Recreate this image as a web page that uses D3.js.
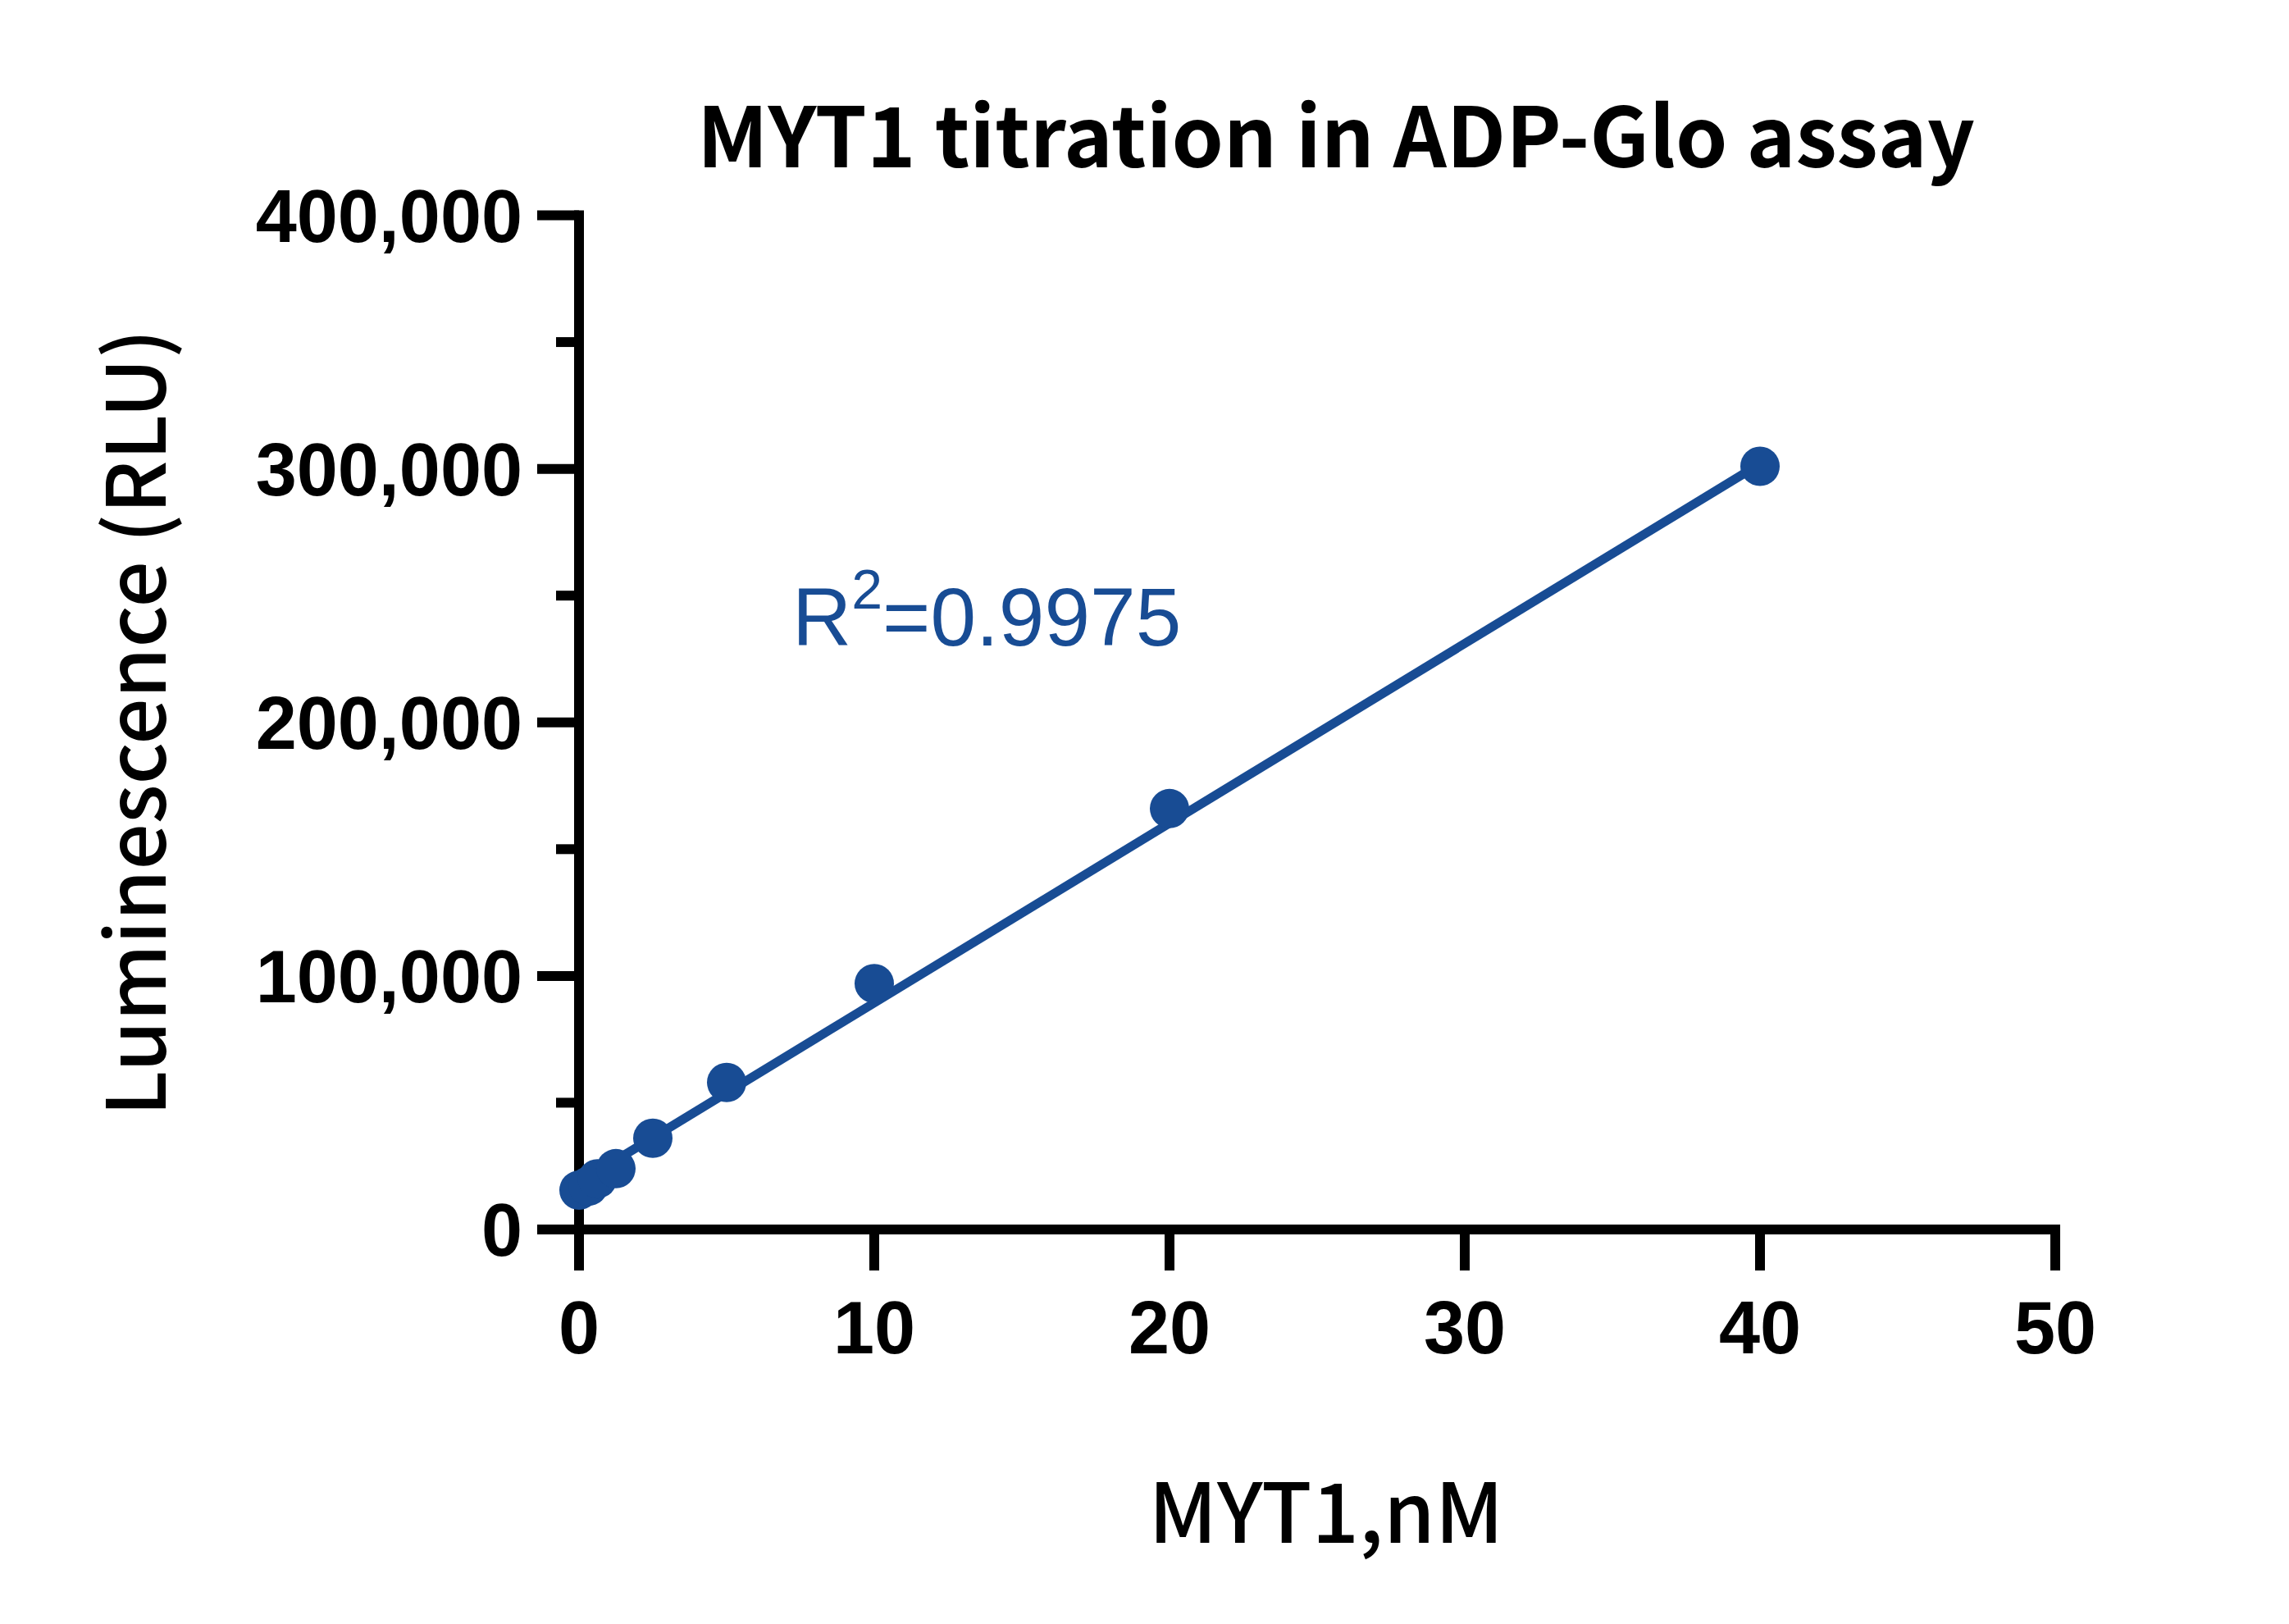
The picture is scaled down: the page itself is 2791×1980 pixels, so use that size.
<!DOCTYPE html>
<html>
<head>
<meta charset="utf-8">
<script src="https://cdn.jsdelivr.net/npm/d3@7"></script>
<style>
  body { margin: 0; background: #fff; }
</style>
</head>
<body>
<div class="chart"></div>
<script>
// data
const concNM = [0, 0.3125, 0.625, 1.25, 2.5, 5, 10, 20, 40];
const rlu = [15500, 17000, 20000, 24000, 36000, 58000, 97000, 166000, 301000];
// linear fit line, end points
const fitX = [0, 40];
const fitY = [18500, 302000];
const xTicks = [0, 10, 20, 30, 40, 50];
const yTicks = [0, 100000, 200000, 300000, 400000];
const yMinor = [50000, 150000, 250000, 350000];
const rSquared = "0.9975";

const W = 2791, H = 1980;
const blue = "#184c94";

const svg = d3.select(".chart")
  .append("svg")
  .attr("width", W)
  .attr("height", H)
  .style("background", "#fff");

const x = d3.scaleLinear()
  .domain([0, 50])
  .range([706, 2506]);

const y = d3.scaleLinear()
  .domain([0, 400000])
  .range([1499, 262.5]);

// fit text to a measured width
function fitWidth(sel, target) {
  const w = sel.node().getBBox().width;
  const fs = parseFloat(sel.attr("font-size"));
  sel.attr("font-size", fs * target / w);
}

// y axis minor ticks
svg.append("g")
  .attr("transform", "translate(" + x(0) + ",0)")
  .call(d3.axisLeft(y).tickValues(yMinor).tickSize(28).tickFormat("").offset(0))
  .call(g => g.select(".domain").remove())
  .call(g => g.selectAll("line").attr("stroke", "#000").attr("stroke-width", 12));

// y axis
svg.append("g")
  .attr("transform", "translate(" + x(0) + ",0)")
  .call(d3.axisLeft(y)
    .tickValues(yTicks)
    .tickSize(51)
    .tickSizeOuter(0)
    .tickPadding(18)
    .tickFormat(d3.format(","))
    .offset(0))
  .call(g => g.select(".domain").attr("stroke", "#000").attr("stroke-width", 12).attr("stroke-linecap", "square"))
  .call(g => g.selectAll(".tick line").attr("stroke", "#000").attr("stroke-width", 12))
  .call(g => g.selectAll("text")
    .attr("fill", "#000")
    .attr("dy", "0.36em")
    .style("font-family", "'Liberation Sans', Arial, sans-serif")
    .style("font-weight", "bold")
    .style("font-size", "90px"));

// x axis
svg.append("g")
  .attr("transform", "translate(0," + y(0) + ")")
  .call(d3.axisBottom(x)
    .tickValues(xTicks)
    .tickSize(50)
    .tickSizeOuter(0)
    .tickPadding(37)
    .offset(0))
  .call(g => g.select(".domain").attr("stroke", "#000").attr("stroke-width", 12).attr("stroke-linecap", "square"))
  .call(g => g.selectAll(".tick line").attr("stroke", "#000").attr("stroke-width", 12))
  .call(g => g.selectAll("text")
    .attr("fill", "#000")
    .style("font-family", "'Liberation Sans', Arial, sans-serif")
    .style("font-weight", "bold")
    .style("font-size", "90px"));

// fit line
const fitData = fitX.map((d, i) => [d, fitY[i]]);
svg.append("path")
  .datum(fitData)
  .attr("fill", "none")
  .attr("stroke", blue)
  .attr("stroke-width", 11)
  .attr("d", d3.line().x(d => x(d[0])).y(d => y(d[1])));

// points
svg.selectAll("circle.pt")
  .data(concNM)
  .enter()
  .append("circle")
  .attr("class", "pt")
  .attr("cx", d => x(d))
  .attr("cy", (d, i) => y(rlu[i]))
  .attr("r", 24)
  .attr("fill", blue);

// R squared
const rt = svg.append("text")
  .attr("x", 966)
  .attr("y", 787)
  .attr("fill", blue)
  .style("font-family", "'Liberation Sans', Arial, sans-serif")
  .attr("font-size", 100);
rt.append("tspan").text("R");
rt.append("tspan").attr("dy", -45).attr("font-size", 68).text("2");
rt.append("tspan").attr("dy", 45).text("=" + rSquared);

// title
const title = svg.append("text")
  .attr("x", 1629)
  .attr("y", 204)
  .attr("text-anchor", "middle")
  .attr("fill", "#000")
  .style("font-family", "'Noto Sans CJK SC', 'Noto Sans', sans-serif")
  .style("font-weight", "bold")
  .attr("font-size", 104)
  .text("MYT1 titration in ADP-Glo assay");
fitWidth(title, 1558);

// x label
const xl = svg.append("text")
  .attr("x", 1617)
  .attr("y", 1881)
  .attr("text-anchor", "middle")
  .attr("fill", "#000")
  .style("font-family", "'Noto Sans CJK SC', 'Noto Sans', sans-serif")
  .style("font-weight", "500")
  .attr("font-size", 104)
  .text("MYT1,nM");
fitWidth(xl, 433);

// y label
const yl = svg.append("text")
  .attr("transform", "translate(202,881) rotate(-90)")
  .attr("text-anchor", "middle")
  .attr("fill", "#000")
  .style("font-family", "'Noto Sans CJK SC', 'Noto Sans', sans-serif")
  .style("font-weight", "500")
  .attr("font-size", 104)
  .text("Luminescence (RLU)");
fitWidth(yl, 960);
</script>
</body>
</html>
